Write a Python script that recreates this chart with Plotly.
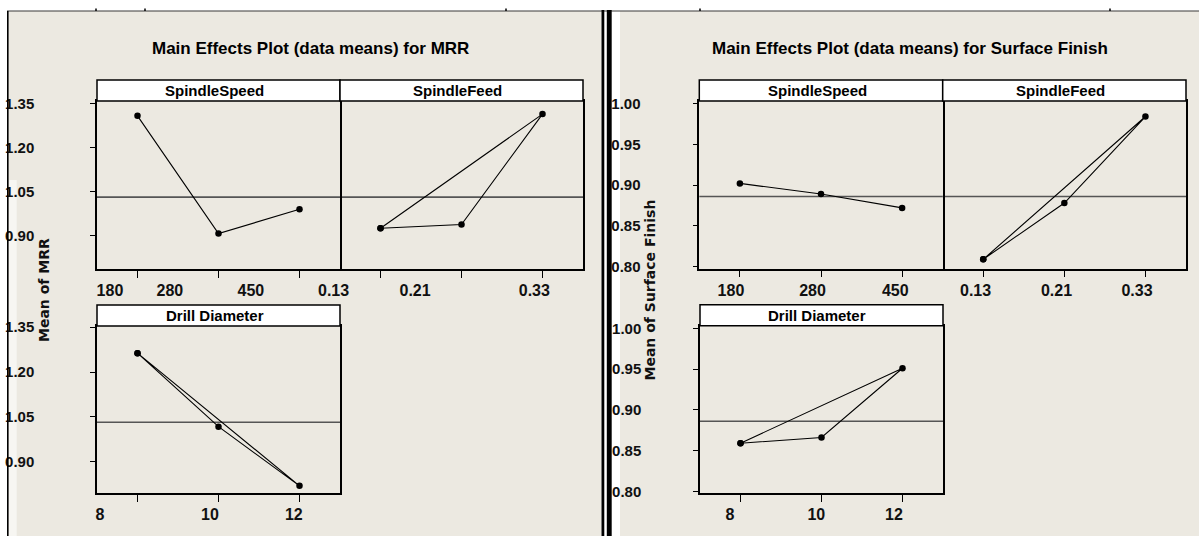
import plotly.graph_objects as go

# ---------------- data ----------------
speed_levels = ["180", "280", "450"]
feed_levels = ["0.13", "0.21", "0.33"]
dia_levels = ["8", "10", "12"]

mrr_speed = [1.308, 0.908, 0.991]
mrr_feed = [0.926, 0.939, 1.314]
mrr_dia = [1.263, 1.017, 0.819]
mrr_mean = 1.032

sf_speed = [0.902, 0.889, 0.872]
sf_feed = [0.809, 0.878, 0.984]
sf_dia = [0.859, 0.866, 0.951]
sf_mean = 0.886

# order in which the means were joined in the original plot
speed_order = [0, 1, 2]
closed_order = [0, 1, 2, 0]

mrr_yticks = [0.90, 1.05, 1.20, 1.35]
sf_yticks = [0.80, 0.85, 0.90, 0.95, 1.00]

# ---------------- layout helpers ----------------
W, H = 1199, 536
BEIGE = "#ECE9E1"


def px(x):
    return x / W


def py(y):
    return 1 - y / H


panels = [
    dict(k="", xp=(97, 340), yp=(101, 269), yr=(0.7878, 1.3585), lv=speed_levels, v=mrr_speed,
         o=speed_order, m=mrr_mean, h="SpindleSpeed", yt=mrr_yticks, lp=[0.66, 1.40, 2.40], sh=0,
         showy=True, ystand=53),
    dict(k="2", xp=(340, 583), yp=(101, 269), yr=(0.7878, 1.3585), lv=feed_levels, v=mrr_feed,
         o=closed_order, m=mrr_mean, h="SpindleFeed", yt=mrr_yticks, lp=[0.717, 1.723, 3.195], sh=-24,
         showy=False, ystand=0),
    dict(k="3", xp=(97, 340), yp=(326, 493.3), yr=(0.794, 1.354), lv=dia_levels, v=mrr_dia,
         o=closed_order, m=mrr_mean, h="Drill Diameter", yt=mrr_yticks, lp=[0.537, 1.895, 2.93], sh=0,
         showy=True, ystand=53),
    dict(k="4", xp=(699.3, 942.7), yp=(101, 268.7), yr=(0.7975, 1.003), lv=speed_levels, v=sf_speed,
         o=speed_order, m=sf_mean, h="SpindleSpeed", yt=sf_yticks, lp=[0.89, 1.896, 2.915], sh=0,
         showy=True, ystand=49),
    dict(k="5", xp=(942.7, 1186), yp=(101, 268.7), yr=(0.7975, 1.003), lv=feed_levels, v=sf_feed,
         o=closed_order, m=sf_mean, h="SpindleFeed", yt=sf_yticks, lp=[0.905, 1.903, 2.896], sh=0,
         showy=False, ystand=0),
    dict(k="6", xp=(700, 943), yp=(325.7, 493.3), yr=(0.7975, 1.0032), lv=dia_levels, v=sf_dia,
         o=closed_order, m=sf_mean, h="Drill Diameter", yt=sf_yticks, lp=[0.869, 1.936, 2.895], sh=0,
         showy=True, ystand=49),
]

fig = go.Figure()
layout = dict(
    width=W, height=H, margin=dict(l=0, r=0, t=0, b=0, autoexpand=False),
    paper_bgcolor="white", plot_bgcolor="white", showlegend=False,
    font=dict(family="Liberation Sans, Arial, sans-serif", color="black"),
)
shapes = []
annotations = []

# background pieces
shapes += [
    dict(type="rect", xref="paper", yref="paper", x0=px(8), x1=px(601.5), y0=py(536), y1=py(11),
         fillcolor=BEIGE, line=dict(width=0), layer="below"),
    dict(type="rect", xref="paper", yref="paper", x0=px(8.7), x1=px(16.7), y0=py(536), y1=py(180),
         fillcolor="#F7F6F2", line=dict(width=0), layer="below"),
    dict(type="rect", xref="paper", yref="paper", x0=px(620), x1=px(1199), y0=py(536), y1=py(11),
         fillcolor=BEIGE, line=dict(width=0), layer="below"),
    dict(type="line", xref="paper", yref="paper", x0=px(7), x1=px(1199), y0=py(11), y1=py(11),
         line=dict(color="#3a3a3a", width=1.2), layer="above"),
    dict(type="line", xref="paper", yref="paper", x0=px(7.8), x1=px(7.8), y0=py(536), y1=py(11),
         line=dict(color="black", width=1.6), layer="above"),
    dict(type="rect", xref="paper", yref="paper", x0=px(601.5), x1=px(604.3), y0=py(536), y1=py(10),
         fillcolor="black", line=dict(width=0), layer="above"),
    dict(type="rect", xref="paper", yref="paper", x0=px(606.8), x1=px(611.7), y0=py(536), y1=py(10),
         fillcolor="black", line=dict(width=0), layer="above"),
]
for tx in [96, 145, 506, 700, 1110]:
    shapes.append(dict(type="line", xref="paper", yref="paper", x0=px(tx), x1=px(tx), y0=py(11), y1=py(8.5),
                       line=dict(color="black", width=1.5), layer="above"))

for p in panels:
    k = p["k"]
    xa = "xaxis" + k
    ya = "yaxis" + k
    xs = [i + 1 for i in p["o"]]
    ys = [p["v"][i] for i in p["o"]]
    fig.add_trace(go.Scatter(
        x=xs, y=ys, xaxis="x" + k, yaxis="y" + k, mode="lines+markers",
        line=dict(color="black", width=1.1),
        marker=dict(color="black", size=6.5), hoverinfo="skip"))

    layout[xa] = dict(
        domain=[px(p["xp"][0]), px(p["xp"][1])], anchor="y" + k, range=[0.5, 3.5],
        automargin=False,
        showline=True, mirror=True, linecolor="black", linewidth=1.5,
        showgrid=False, zeroline=False,
        tickmode="array", tickvals=p["lp"], ticktext=p["lv"], ticks="",
        ticklabelstandoff=6, ticklabelshift=p["sh"],
        tickfont=dict(size=16, weight="bold", color="#111111"),
        minor=dict(tickmode="array", tickvals=[1, 2, 3], ticks="outside", ticklen=7,
                   tickwidth=1.2, tickcolor="black", showgrid=False),
    )
    ydict = dict(
        domain=[py(p["yp"][1]), py(p["yp"][0])], anchor="x" + k, range=list(p["yr"]),
        automargin=False,
        showline=True, linecolor="black", linewidth=1.5,
        showgrid=False, zeroline=False,
    )
    if p["showy"]:
        ydict.update(mirror=True, tickmode="array", tickvals=p["yt"],
                     ticktext=[f"{t:.2f}" for t in p["yt"]],
                     ticks="outside", ticklen=5, tickwidth=1.2, tickcolor="black",
                     ticklabelstandoff=p["ystand"],
                     tickfont=dict(size=15, weight="bold", color="#111111"))
    else:
        ydict.update(side="right", mirror=False, showticklabels=False, ticks="", tickvals=p["yt"])
    layout[ya] = ydict

    # grand-mean reference line
    shapes.append(dict(type="line", xref=f"x{k} domain", yref=f"y{k}", x0=0, x1=1, y0=p["m"], y1=p["m"],
                       line=dict(color="#555555", width=1.6), layer="below"))
    # header strip
    hy1 = p["yp"][0]
    hy0 = hy1 - 21
    shapes.append(dict(type="rect", xref="paper", yref="paper", x0=px(p["xp"][0]), x1=px(p["xp"][1]),
                       y0=py(hy1), y1=py(hy0), fillcolor="white", line=dict(color="black", width=1.5),
                       layer="above"))
    annotations.append(dict(text=p["h"], xref="paper", yref="paper",
                            x=px((p["xp"][0] + p["xp"][1]) / 2 - 4), y=py((hy0 + hy1) / 2),
                            xanchor="center", yanchor="middle", showarrow=False,
                            font=dict(size=15, weight="bold", color="black")))

annotations += [
    dict(text="Main Effects Plot (data means) for MRR", xref="paper", yref="paper",
         x=px(310), y=py(48), xanchor="center", yanchor="middle", showarrow=False,
         font=dict(size=17, weight="bold", color="black")),
    dict(text="Main Effects Plot (data means) for Surface Finish", xref="paper", yref="paper",
         x=px(910), y=py(48), xanchor="center", yanchor="middle", showarrow=False,
         font=dict(size=17, weight="bold", color="black")),
    dict(text="Mean of MRR", xref="paper", yref="paper", x=px(44), y=py(290), textangle=-90,
         xanchor="center", yanchor="middle", showarrow=False,
         font=dict(family="DejaVu Sans, sans-serif", size=14, weight="bold", color="#111111")),
    dict(text="Mean of Surface Finish", xref="paper", yref="paper", x=px(649.5), y=py(290), textangle=-90,
         xanchor="center", yanchor="middle", showarrow=False,
         font=dict(family="DejaVu Sans, sans-serif", size=14, weight="bold", color="#111111")),
]

layout["shapes"] = shapes
layout["annotations"] = annotations
fig.update_layout(**layout)
fig.write_html("out.html")
